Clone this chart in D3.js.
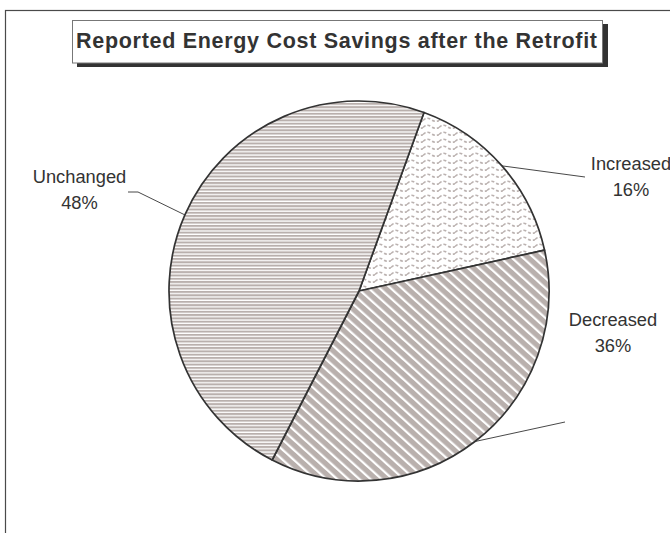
<!DOCTYPE html>
<html>
<head>
<meta charset="utf-8">
<script src="https://cdn.jsdelivr.net/npm/d3@7"></script>
<style>
  html, body { margin: 0; padding: 0; background: #fff; }
  svg { display: block; }
</style>
</head>
<body>
<svg id="chart" width="670" height="533"></svg>
<script>
// ---- data ----
const title = "Reported Energy Cost Savings after the Retrofit";
const categories = ["Increased", "Decreased", "Unchanged"];
const values = [16, 36, 48];
const percentLabels = ["16%", "36%", "48%"];

// ---- layout (not data) ----
const W = 670, H = 533;
const cx = 359, cy = 291, R = 190;
const startDeg = 20;
const labelLayout = {
  Increased: { x: 631, y: 170, elbow: null, end: [585, 177] },
  Decreased: { x: 613, y: 326, elbow: null, end: [565, 422] },
  Unchanged: { x: 79.5, y: 183, elbow: [138, 192], end: [128, 192] }
};

const svg = d3.select("#chart");
const defs = svg.append("defs");

// horizontal lines pattern
const pH = defs.append("pattern").attr("id", "pat-h")
  .attr("patternUnits", "userSpaceOnUse").attr("width", 8).attr("height", 3.3);
pH.append("rect").attr("width", 8).attr("height", 3.3).attr("fill", "#fff");
pH.append("rect").attr("y", 0).attr("width", 8).attr("height", 2).attr("fill", "#b9b0ad");

// diagonal stripes pattern
const pD = defs.append("pattern").attr("id", "pat-d")
  .attr("patternUnits", "userSpaceOnUse").attr("width", 10).attr("height", 7.4)
  .attr("patternTransform", "rotate(42)");
pD.append("rect").attr("width", 10).attr("height", 7.4).attr("fill", "#fff");
pD.append("rect").attr("width", 10).attr("height", 5.2).attr("fill", "#b9b0ad");

// wave pattern
const pW = defs.append("pattern").attr("id", "pat-w")
  .attr("patternUnits", "userSpaceOnUse").attr("width", 16).attr("height", 7);
pW.append("rect").attr("width", 16).attr("height", 7).attr("fill", "#fff");
pW.append("path").attr("d", "M0,4.5 Q4,0.5 8,3.5 T16,4.5")
  .attr("fill", "none").attr("stroke", "#bbb2b0").attr("stroke-width", 1.6)
  .attr("stroke-dasharray", "3,2");

const patternFor = { Increased: "url(#pat-w)", Decreased: "url(#pat-d)", Unchanged: "url(#pat-h)" };

// outer frame
svg.append("rect").attr("x", 5.5).attr("y", 10.5).attr("width", W + 20).attr("height", H + 20)
  .attr("fill", "none").attr("stroke", "#4a4a4a").attr("stroke-width", 1.2);

// title box with shadow
svg.append("rect").attr("x", 77).attr("y", 24).attr("width", 531).attr("height", 43).attr("fill", "#333");
svg.append("rect").attr("x", 72.5).attr("y", 20.5).attr("width", 530).attr("height", 42.5)
  .attr("fill", "#fff").attr("stroke", "#777").attr("stroke-width", 1);
svg.append("text").attr("x", 336.5).attr("y", 48)
  .attr("text-anchor", "middle")
  .attr("font-family", "Liberation Sans, Arial, sans-serif")
  .attr("font-weight", "bold").attr("font-size", 21.5)
  .attr("textLength", 521).attr("lengthAdjust", "spacing")
  .attr("fill", "#333").text(title);

// pie
const data = categories.map((c, i) => ({ cat: c, value: values[i], pct: percentLabels[i] }));
const a0 = startDeg * Math.PI / 180;
const pie = d3.pie().value(d => d.value).sort(null).startAngle(a0).endAngle(a0 + 2 * Math.PI);
const arcs = pie(data);
const arc = d3.arc().innerRadius(0).outerRadius(R);

const g = svg.append("g").attr("transform", `translate(${cx},${cy})`);
g.selectAll("path.slice").data(arcs).join("path")
  .attr("class", "slice")
  .attr("d", arc)
  .attr("fill", d => patternFor[d.data.cat])
  .attr("stroke", "#333").attr("stroke-width", 1.7).attr("stroke-linejoin", "round");

// leaders and labels
arcs.forEach(d => {
  const L = labelLayout[d.data.cat];
  const mid = (d.startAngle + d.endAngle) / 2;
  const sx = cx + R * Math.sin(mid), sy = cy - R * Math.cos(mid);
  const pts = [[sx, sy]];
  if (L.elbow) pts.push(L.elbow);
  pts.push(L.end);
  svg.append("path").attr("d", d3.line()(pts))
    .attr("fill", "none").attr("stroke", "#333").attr("stroke-width", 0.9);
  const t = svg.append("text").attr("text-anchor", "middle")
    .attr("font-family", "Liberation Sans, Arial, sans-serif")
    .attr("font-size", 18.3).attr("fill", "#333");
  t.append("tspan").attr("x", L.x).attr("y", L.y).text(d.data.cat);
  t.append("tspan").attr("x", L.x).attr("y", L.y + 26).text(d.data.pct);
});
</script>
</body>
</html>
